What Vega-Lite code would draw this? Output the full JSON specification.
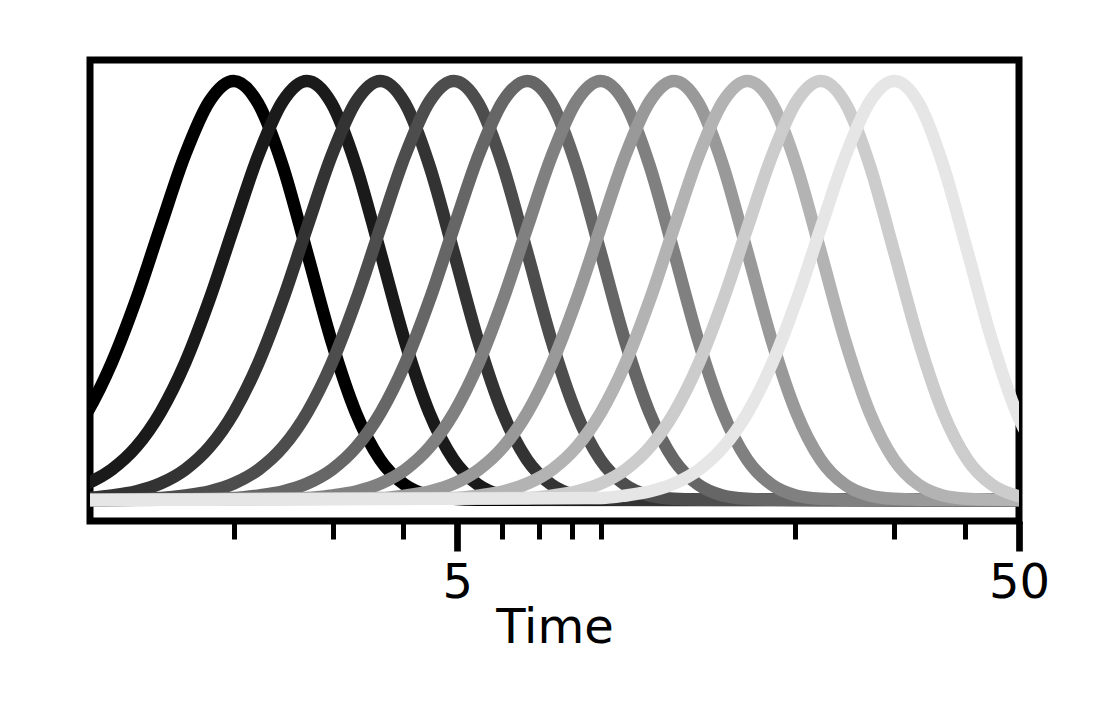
{
  "$schema": "https://vega.github.io/schema/vega-lite/v6.json",
  "autosize": {"type": "none"},
  "width": 929,
  "height": 461,
  "padding": {"left": 90, "top": 60, "right": 89, "bottom": 190},
  "background": "white",
  "config": {
    "view": {"stroke": "black", "strokeWidth": 7},
    "font": "DejaVu Sans"
  },
  "data": {"values": [
    {"s":0,"t":0.993,"v":0.127},{"s":0,"t":1.098,"v":0.210},{"s":0,"t":1.213,"v":0.327},{"s":0,"t":1.341,"v":0.478},{"s":0,"t":1.482,"v":0.652},{"s":0,"t":1.637,"v":0.822},{"s":0,"t":1.810,"v":0.951},{"s":0,"t":2.0,"v":1},{"s":0,"t":2.210,"v":0.947},{"s":0,"t":2.443,"v":0.799},{"s":0,"t":2.700,"v":0.592},{"s":0,"t":2.984,"v":0.381},{"s":0,"t":3.297,"v":0.210},{"s":0,"t":3.644,"v":0.097},{"s":0,"t":4.028,"v":0.037},{"s":0,"t":4.451,"v":0.011},{"s":0,"t":4.919,"v":0.003},{"s":0,"t":5.437,"v":0.001},{"s":0,"t":50,"v":0},

    {"s":1,"t":0.994,"v":0.021},{"s":1,"t":1.099,"v":0.040},{"s":1,"t":1.214,"v":0.073},{"s":1,"t":1.342,"v":0.127},{"s":1,"t":1.483,"v":0.210},{"s":1,"t":1.639,"v":0.327},{"s":1,"t":1.811,"v":0.478},{"s":1,"t":2.002,"v":0.652},{"s":1,"t":2.212,"v":0.822},{"s":1,"t":2.445,"v":0.951},{"s":1,"t":2.702,"v":1},{"s":1,"t":2.986,"v":0.947},{"s":1,"t":3.300,"v":0.799},{"s":1,"t":3.648,"v":0.592},{"s":1,"t":4.031,"v":0.381},{"s":1,"t":4.455,"v":0.210},{"s":1,"t":4.924,"v":0.097},{"s":1,"t":5.441,"v":0.037},{"s":1,"t":6.014,"v":0.011},{"s":1,"t":6.646,"v":0.003},{"s":1,"t":7.345,"v":0.001},{"s":1,"t":50,"v":0},

    {"s":2,"t":1.0996,"v":0.005},{"s":2,"t":1.2153,"v":0.011},{"s":2,"t":1.3431,"v":0.021},{"s":2,"t":1.4844,"v":0.040},{"s":2,"t":1.6403,"v":0.073},{"s":2,"t":1.8129,"v":0.127},{"s":2,"t":2.0035,"v":0.210},{"s":2,"t":2.2141,"v":0.327},{"s":2,"t":2.4471,"v":0.478},{"s":2,"t":2.7044,"v":0.652},{"s":2,"t":2.9888,"v":0.822},{"s":2,"t":3.3032,"v":0.951},{"s":2,"t":3.6507,"v":1},{"s":2,"t":4.0348,"v":0.947},{"s":2,"t":4.4590,"v":0.799},{"s":2,"t":4.9281,"v":0.592},{"s":2,"t":5.4461,"v":0.381},{"s":2,"t":6.0189,"v":0.210},{"s":2,"t":6.6519,"v":0.097},{"s":2,"t":7.3518,"v":0.037},{"s":2,"t":8.1246,"v":0.011},{"s":2,"t":8.9793,"v":0.003},{"s":2,"t":9.9237,"v":0.001},{"s":2,"t":50,"v":0},

    {"s":3,"t":1.11,"v":0},{"s":3,"t":1.4856,"v":0.005},{"s":3,"t":1.6420,"v":0.011},{"s":3,"t":1.8146,"v":0.021},{"s":3,"t":2.0055,"v":0.040},{"s":3,"t":2.2161,"v":0.073},{"s":3,"t":2.4494,"v":0.127},{"s":3,"t":2.7068,"v":0.210},{"s":3,"t":2.9914,"v":0.327},{"s":3,"t":3.3061,"v":0.478},{"s":3,"t":3.6538,"v":0.652},{"s":3,"t":4.0381,"v":0.822},{"s":3,"t":4.4627,"v":0.951},{"s":3,"t":4.9323,"v":1},{"s":3,"t":5.4512,"v":0.947},{"s":3,"t":6.0243,"v":0.799},{"s":3,"t":6.6581,"v":0.592},{"s":3,"t":7.3580,"v":0.381},{"s":3,"t":8.1319,"v":0.210},{"s":3,"t":8.9872,"v":0.097},{"s":3,"t":9.9327,"v":0.037},{"s":3,"t":10.977,"v":0.011},{"s":3,"t":12.131,"v":0.003},{"s":3,"t":13.407,"v":0.001},{"s":3,"t":50,"v":0},

    {"s":4,"t":1.11,"v":0},{"s":4,"t":2.0071,"v":0.005},{"s":4,"t":2.2184,"v":0.011},{"s":4,"t":2.4516,"v":0.021},{"s":4,"t":2.7095,"v":0.040},{"s":4,"t":2.9940,"v":0.073},{"s":4,"t":3.3092,"v":0.127},{"s":4,"t":3.6571,"v":0.210},{"s":4,"t":4.0416,"v":0.327},{"s":4,"t":4.4667,"v":0.478},{"s":4,"t":4.9366,"v":0.652},{"s":4,"t":5.4557,"v":0.822},{"s":4,"t":6.0294,"v":0.951},{"s":4,"t":6.6638,"v":1},{"s":4,"t":7.3648,"v":0.947},{"s":4,"t":8.1392,"v":0.799},{"s":4,"t":8.9955,"v":0.592},{"s":4,"t":9.9411,"v":0.381},{"s":4,"t":10.987,"v":0.210},{"s":4,"t":12.142,"v":0.097},{"s":4,"t":13.420,"v":0.037},{"s":4,"t":14.830,"v":0.011},{"s":4,"t":16.390,"v":0.003},{"s":4,"t":18.114,"v":0.001},{"s":4,"t":50,"v":0},

    {"s":5,"t":1.11,"v":0},{"s":5,"t":2.7117,"v":0.005},{"s":5,"t":2.9971,"v":0.011},{"s":5,"t":3.3122,"v":0.021},{"s":5,"t":3.6607,"v":0.040},{"s":5,"t":4.0451,"v":0.073},{"s":5,"t":4.4709,"v":0.127},{"s":5,"t":4.9409,"v":0.210},{"s":5,"t":5.4604,"v":0.327},{"s":5,"t":6.0348,"v":0.478},{"s":5,"t":6.6695,"v":0.652},{"s":5,"t":7.3708,"v":0.822},{"s":5,"t":8.1460,"v":0.951},{"s":5,"t":9.0031,"v":1},{"s":5,"t":9.9502,"v":0.947},{"s":5,"t":10.996,"v":0.799},{"s":5,"t":12.153,"v":0.592},{"s":5,"t":13.431,"v":0.381},{"s":5,"t":14.843,"v":0.210},{"s":5,"t":16.404,"v":0.097},{"s":5,"t":18.130,"v":0.037},{"s":5,"t":20.036,"v":0.011},{"s":5,"t":22.144,"v":0.003},{"s":5,"t":24.473,"v":0.001},{"s":5,"t":50,"v":0},

    {"s":6,"t":1.11,"v":0},{"s":6,"t":3.6637,"v":0.005},{"s":6,"t":4.0493,"v":0.011},{"s":6,"t":4.4750,"v":0.021},{"s":6,"t":4.9458,"v":0.040},{"s":6,"t":5.4652,"v":0.073},{"s":6,"t":6.0405,"v":0.127},{"s":6,"t":6.6754,"v":0.210},{"s":6,"t":7.3773,"v":0.327},{"s":6,"t":8.1533,"v":0.478},{"s":6,"t":9.0109,"v":0.652},{"s":6,"t":9.9582,"v":0.822},{"s":6,"t":11.006,"v":0.951},{"s":6,"t":12.164,"v":1},{"s":6,"t":13.443,"v":0.947},{"s":6,"t":14.857,"v":0.799},{"s":6,"t":16.420,"v":0.592},{"s":6,"t":18.146,"v":0.381},{"s":6,"t":20.054,"v":0.210},{"s":6,"t":22.163,"v":0.097},{"s":6,"t":24.495,"v":0.037},{"s":6,"t":27.070,"v":0.011},{"s":6,"t":29.918,"v":0.003},{"s":6,"t":33.064,"v":0.001},{"s":6,"t":50,"v":0},

    {"s":7,"t":1.11,"v":0},{"s":7,"t":4.9499,"v":0.005},{"s":7,"t":5.4708,"v":0.011},{"s":7,"t":6.0460,"v":0.021},{"s":7,"t":6.6820,"v":0.040},{"s":7,"t":7.3837,"v":0.073},{"s":7,"t":8.1610,"v":0.127},{"s":7,"t":9.0189,"v":0.210},{"s":7,"t":9.9671,"v":0.327},{"s":7,"t":11.016,"v":0.478},{"s":7,"t":12.174,"v":0.652},{"s":7,"t":13.454,"v":0.822},{"s":7,"t":14.869,"v":0.951},{"s":7,"t":16.434,"v":1},{"s":7,"t":18.163,"v":0.947},{"s":7,"t":20.072,"v":0.799},{"s":7,"t":22.184,"v":0.592},{"s":7,"t":24.516,"v":0.381},{"s":7,"t":27.094,"v":0.210},{"s":7,"t":29.944,"v":0.097},{"s":7,"t":33.094,"v":0.037},{"s":7,"t":36.573,"v":0.011},{"s":7,"t":40.420,"v":0.003},{"s":7,"t":44.672,"v":0.001},{"s":7,"t":50,"v":0},

    {"s":8,"t":1.11,"v":0},{"s":8,"t":6.6875,"v":0.005},{"s":8,"t":7.3913,"v":0.011},{"s":8,"t":8.1684,"v":0.021},{"s":8,"t":9.0277,"v":0.040},{"s":8,"t":9.9757,"v":0.073},{"s":8,"t":11.026,"v":0.127},{"s":8,"t":12.185,"v":0.210},{"s":8,"t":13.466,"v":0.327},{"s":8,"t":14.883,"v":0.478},{"s":8,"t":16.448,"v":0.652},{"s":8,"t":18.177,"v":0.822},{"s":8,"t":20.089,"v":0.951},{"s":8,"t":22.203,"v":1},{"s":8,"t":24.538,"v":0.947},{"s":8,"t":27.118,"v":0.799},{"s":8,"t":29.971,"v":0.592},{"s":8,"t":33.122,"v":0.381},{"s":8,"t":36.606,"v":0.210},{"s":8,"t":40.456,"v":0.097},{"s":8,"t":44.712,"v":0.037},{"s":8,"t":49.412,"v":0.011},{"s":8,"t":54.610,"v":0.003},

    {"s":9,"t":1.11,"v":0},{"s":9,"t":9.036,"v":0.005},{"s":9,"t":9.987,"v":0.011},{"s":9,"t":11.037,"v":0.021},{"s":9,"t":12.198,"v":0.040},{"s":9,"t":13.479,"v":0.073},{"s":9,"t":14.898,"v":0.127},{"s":9,"t":16.464,"v":0.210},{"s":9,"t":18.195,"v":0.327},{"s":9,"t":20.109,"v":0.478},{"s":9,"t":22.224,"v":0.652},{"s":9,"t":24.561,"v":0.822},{"s":9,"t":27.144,"v":0.951},{"s":9,"t":30.0,"v":1},{"s":9,"t":33.156,"v":0.947},{"s":9,"t":36.642,"v":0.799},{"s":9,"t":40.497,"v":0.592},{"s":9,"t":44.754,"v":0.381},{"s":9,"t":49.461,"v":0.210},{"s":9,"t":54.663,"v":0.097}
  ]},
  "mark": {"type": "line", "strokeWidth": 12.5, "clip": true, "interpolate": "monotone"},
  "encoding": {
    "x": {
      "field": "t", "type": "quantitative",
      "scale": {"type": "log", "domain": [1.11, 50], "nice": false},
      "axis": {
        "values": [2, 3, 4, 5, 6, 7, 8, 9, 20, 30, 40, 50],
        "format": "d",
        "labelExpr": "datum.value == 5 || datum.value == 50 ? datum.label : ''",
        "domain": false,
        "grid": false,
        "tickColor": "black",
        "tickSize": {"condition": {"test": "datum.value == 5 || datum.value == 50", "value": 30}, "value": 18},
        "tickWidth": {"condition": {"test": "datum.value == 5 || datum.value == 50", "value": 6.7}, "value": 5},
        "labelFont": "DejaVu Sans",
        "labelFontSize": 48,
        "labelColor": "black",
        "labelPadding": 8,
        "labelFlush": false,
        "labelOverlap": false,
        "title": "Time",
        "titleFont": "DejaVu Sans",
        "titleFontSize": 48,
        "titleFontWeight": "normal",
        "titleColor": "black",
        "titlePadding": -2.5
      }
    },
    "y": {
      "field": "v", "type": "quantitative",
      "scale": {"domain": [-0.05, 1.05], "nice": false, "zero": false},
      "axis": null
    },
    "color": {
      "field": "s", "type": "nominal",
      "scale": {"domain": [0,1,2,3,4,5,6,7,8,9], "range": ["#000000","#1a1a1a","#333333","#4d4d4d","#666666","#808080","#999999","#b3b3b3","#cccccc","#e6e6e6"]},
      "legend": null
    }
  }
}
